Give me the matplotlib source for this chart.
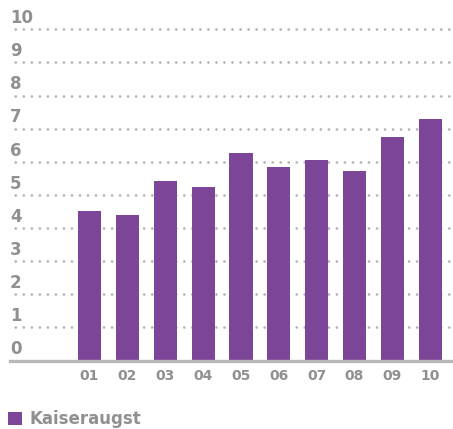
import matplotlib
matplotlib.use("Agg")
import matplotlib.pyplot as plt

# data
years = ["01", "02", "03", "04", "05", "06", "07", "08", "09", "10"]
values = [4.52, 4.39, 5.42, 5.24, 6.27, 5.85, 6.06, 5.73, 6.76, 7.30]
y_ticks = [0, 1, 2, 3, 4, 5, 6, 7, 8, 9, 10]
series_name = "Kaiseraugst"

bar_color = "#7d4597"
grey_text = "#909090"
grid_color = "#b4b4b4"

plt.rcParams["font.family"] = ["DejaVu Sans"]

fig = plt.figure(figsize=(4.53, 4.29), dpi=100)
ax = fig.add_axes([10 / 453, 1 - 360.5 / 429, 1 - 10 / 453, (360.5 - 29.3) / 429])

x = list(range(len(years)))
ax.bar(x, values, width=0.61, color=bar_color, label=series_name, zorder=3)

ax.set_xlim(-2.1, 9.6)
ax.set_ylim(0, 10)

# dotted grid lines, solid base line
for v in y_ticks[1:]:
    ax.axhline(v, color=grid_color, linewidth=2.0, linestyle=(1, (0.01, 2.88)),
               dash_capstyle="round", zorder=1, clip_on=False)
ax.axhline(0, color="#b8b8b8", linewidth=2.4, zorder=4, clip_on=False)

# y labels sit above their line
for v in y_ticks:
    ax.annotate(str(v), xy=(0, v), xycoords=("axes fraction", "data"),
                xytext=(0, 4.5), textcoords="offset points",
                ha="left", va="baseline", fontsize=12, fontweight="bold",
                color=grey_text, annotation_clip=False)

ax.set_xticks(x)
ax.set_xticklabels(years, fontsize=10, fontweight="bold", color=grey_text)
ax.tick_params(axis="x", length=0, pad=6)
ax.set_yticks([])
for s in ax.spines.values():
    s.set_visible(False)

fig.legend(loc="lower left", bbox_to_anchor=(0.0, -0.017), frameon=False,
           prop={"weight": "bold", "size": 12}, labelcolor=grey_text,
           handlelength=0.85, handleheight=0.85, handletextpad=0.4,
           borderaxespad=0.2, borderpad=0.3)

fig.savefig("out.png", dpi=100)
